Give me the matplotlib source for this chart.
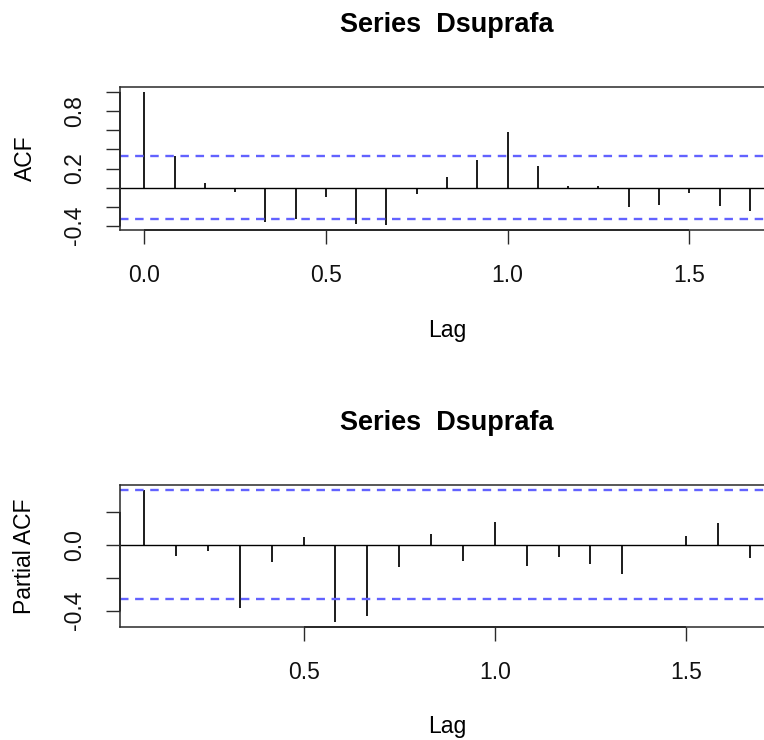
import numpy as np
import matplotlib
matplotlib.use("Agg")
import matplotlib.pyplot as plt

# ---- data ----
freq = 12
acf_lags = np.arange(0, 21) / freq
acf_vals = [1.0, 0.331, 0.052, -0.042, -0.366, -0.331, -0.098, -0.383, -0.390,
            -0.063, 0.115, 0.293, 0.585, 0.230, 0.021, 0.014, -0.209, -0.188,
            -0.052, -0.192, -0.244]
pacf_lags = np.arange(1, 21) / freq
pacf_vals = [0.331, -0.070, -0.036, -0.382, -0.104, 0.044, -0.468, -0.436,
             -0.135, 0.064, -0.098, 0.141, -0.131, -0.076, -0.120, -0.177,
             -0.006, 0.050, 0.135, -0.080]
ci = 0.331
title_text = "Series  Dsuprafa"

acf_xticks = [0.0, 0.5, 1.0, 1.5]
acf_xticklabels = ["0.0", "0.5", "1.0", "1.5"]
acf_yticks = [-0.4, -0.2, 0.0, 0.2, 0.4, 0.6, 0.8, 1.0]
acf_yticklabels = ["-0.4", "", "", "0.2", "", "", "0.8", ""]
pacf_xticks = [0.5, 1.0, 1.5]
pacf_xticklabels = ["0.5", "1.0", "1.5"]
pacf_yticks = [-0.4, -0.2, 0.0, 0.2]
pacf_yticklabels = ["-0.4", "", "0.0", ""]

# ---- style ----
plt.rcParams["font.family"] = ["Liberation Sans", "DejaVu Sans"]
W, H = 764, 740
fig = plt.figure(figsize=(W / 100, H / 100), dpi=100)

BOX = "#2a2a2a"
CI_COL = "#6262ff"
TICK_FS = 16.5
LAB_FS = 16.5
TITLE_FS = 19.5


def px_axes(left, top, right, bottom):
    return fig.add_axes([left / W, 1 - bottom / H, (right - left) / W, (bottom - top) / H])


def r_range(lo, hi, pad=0.04):
    r = hi - lo
    return lo - pad * r, hi + pad * r


def panel(ax, lags, vals, xticks, xtl, yticks, ytl):
    lo = min(min(vals), -ci)
    hi = max(max(vals), ci)
    ax.set_ylim(*r_range(lo, hi))
    ax.set_xlim(*r_range(min(lags), max(lags)))
    ax.vlines(lags, 0, vals, colors="black", linewidth=1.25)
    ax.axhline(0, color="black", linewidth=1.0)
    for c in (ci, -ci):
        ax.axhline(c, color=CI_COL, linewidth=1.7, linestyle=(0, (3.6, 2.8)))
    for s in ax.spines.values():
        s.set_color(BOX)
        s.set_linewidth(1.1)
    ax.set_xticks(xticks)
    ax.set_xticklabels(xtl)
    ax.set_yticks(yticks)
    ax.set_yticklabels(ytl, rotation=90, va="center")
    ax.tick_params(axis="both", direction="out", length=10, width=1.0,
                   color=BOX, labelsize=TICK_FS, pad=14.5, labelcolor="#111111")
    # R-style axis lines spanning first to last tick
    ymin = ax.get_ylim()[0]
    xmin = ax.get_xlim()[0]
    ax.plot([xticks[0], xticks[-1]], [ymin, ymin], color=BOX, linewidth=1.4,
            clip_on=False, solid_capstyle="butt")
    ax.plot([xmin, xmin], [yticks[0], yticks[-1]], color=BOX, linewidth=1.4,
            clip_on=False, solid_capstyle="butt")


ax1 = px_axes(120, 87, 774, 230)
panel(ax1, acf_lags, acf_vals, acf_xticks, acf_xticklabels, acf_yticks, acf_yticklabels)
ax2 = px_axes(120, 485, 774, 627)
panel(ax2, pacf_lags, pacf_vals, pacf_xticks, pacf_xticklabels, pacf_yticks, pacf_yticklabels)

cx = 447 / W
fig.text(cx, 1 - 25 / H, title_text, ha="center", va="center",
         fontsize=TITLE_FS, fontweight="bold")
fig.text(cx, 1 - 423 / H, title_text, ha="center", va="center",
         fontsize=TITLE_FS, fontweight="bold")
fig.text(cx, 1 - 330 / H, "Lag", ha="center", va="center", fontsize=LAB_FS)
fig.text(cx, 1 - 727 / H, "Lag", ha="center", va="center", fontsize=LAB_FS)
fig.text(25 / W, 1 - 158.5 / H, "ACF", ha="center", va="center",
         rotation=90, fontsize=LAB_FS)
fig.text(25 / W, 1 - 556 / H, "Partial ACF", ha="center", va="center",
         rotation=90, fontsize=LAB_FS)

fig.savefig("out.png", dpi=100, facecolor="white")
